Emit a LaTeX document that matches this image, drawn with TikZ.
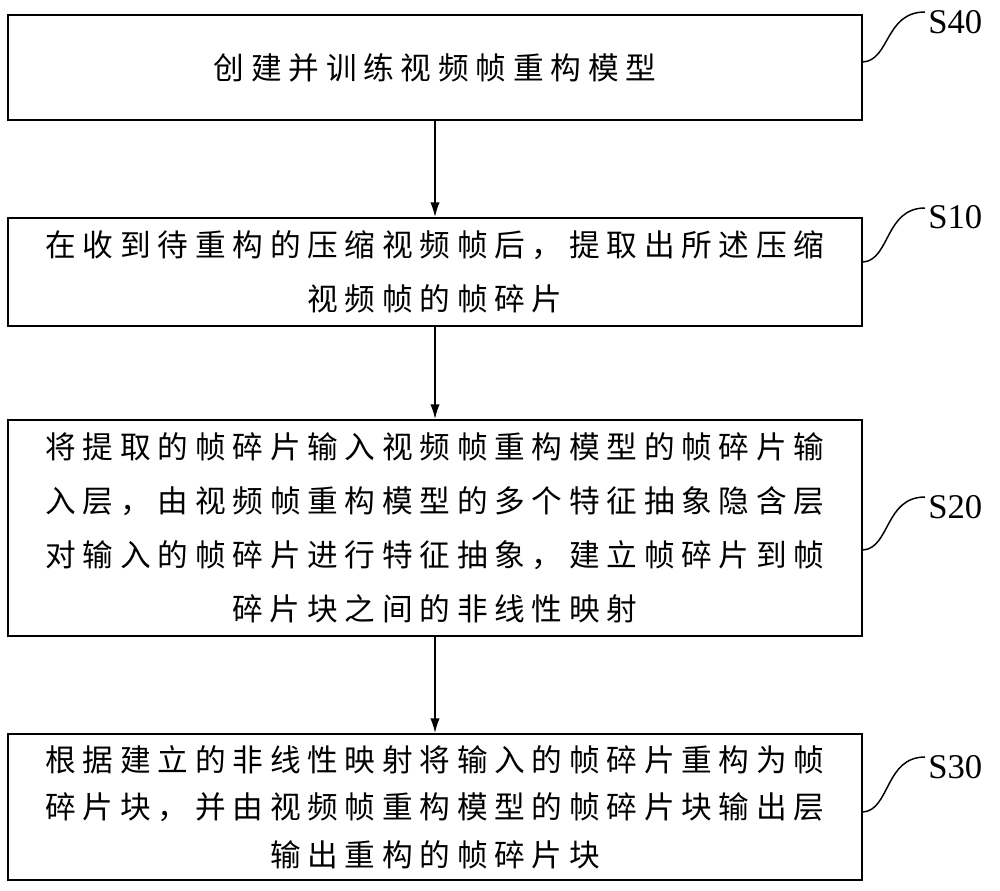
\documentclass[tikz,border=0pt]{standalone}
\usepackage{fontspec}
\setmainfont{Liberation Serif}
\newfontfamily\cjk[LetterSpace=22]{Noto Sans CJK SC}
\usetikzlibrary{arrows.meta}
\begin{document}
\begin{tikzpicture}[x=0.75pt,y=-0.75pt,
  box/.style={draw,line width=1.5pt,minimum width=854*0.75pt,inner sep=0pt,align=center,
    font=\cjk\fontsize{23}{40.5}\selectfont},
  arr/.style={-{Latex[length=11pt,width=7pt]},line width=1.1pt},
  lead/.style={line width=1.1pt},
  lab/.style={font=\fontsize{26}{28}\selectfont,anchor=west,inner sep=0pt}]
\useasboundingbox (0,0) rectangle (1000,890);
\node[box,minimum height=105*0.75pt] (b1) at (435,67.5) {创建并训练视频帧重构模型};
\node[box,minimum height=108*0.75pt] (b2) at (435,272) {在收到待重构的压缩视频帧后，提取出所述压缩\\视频帧的帧碎片};
\node[box,minimum height=216*0.75pt] (b3) at (435,528) {将提取的帧碎片输入视频帧重构模型的帧碎片输\\入层，由视频帧重构模型的多个特征抽象隐含层\\对输入的帧碎片进行特征抽象，建立帧碎片到帧\\碎片块之间的非线性映射};
\node[box,minimum height=146*0.75pt,font=\cjk\fontsize{23}{35.5}\selectfont] (b4) at (435,807) {根据建立的非线性映射将输入的帧碎片重构为帧\\碎片块，并由视频帧重构模型的帧碎片块输出层\\输出重构的帧碎片块};
\draw[arr] (b1) -- (b2);
\draw[arr] (b2) -- (b3);
\draw[arr] (b3) -- (b4);
\coordinate (e1) at (925,12); \coordinate (e2) at (925,208);
\coordinate (e3) at (925,497); \coordinate (e4) at (925,757);
\draw[lead] (b1.east|-0,62) .. controls (890,60) and (885,12) .. (e1);
\draw[lead] (b2.east|-0,262) .. controls (890,260) and (885,208) .. (e2);
\draw[lead] (b3.east|-0,550) .. controls (890,548) and (885,497) .. (e3);
\draw[lead] (b4.east|-0,812) .. controls (890,810) and (885,757) .. (e4);
\node[lab] (l1) at (928,22) {S40};
\node[lab] (l2) at (928,217) {S10};
\node[lab] (l3) at (928,507) {S20};
\node[lab] (l4) at (928,767) {S30};
\end{tikzpicture}
\end{document}
